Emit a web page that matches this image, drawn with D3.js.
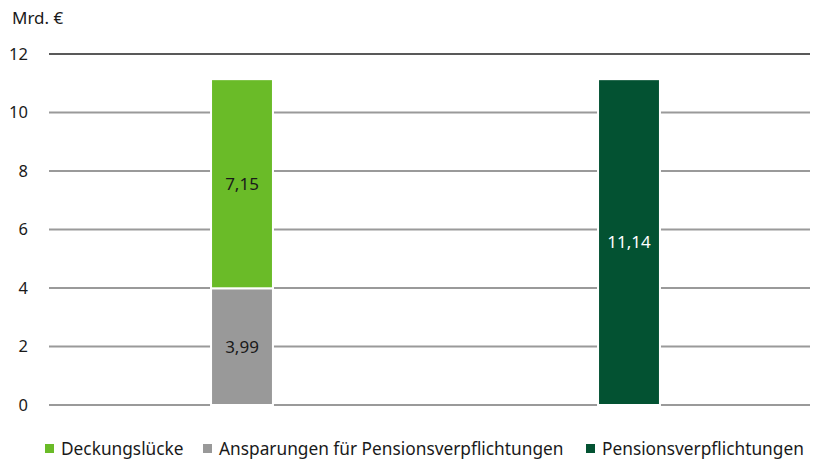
<!DOCTYPE html>
<html lang="de">
<head>
    <meta charset="UTF-8">
    <title>Pensionsverpflichtungen</title>
    <style>
        body { margin: 0; background: #fff; }
        svg text { font-family: "Noto Sans", "Open Sans", sans-serif; fill: #1a1a1a; }
        .grid line { stroke: #9a9a9a; stroke-width: 2; }
    </style>
</head>
<body>
    <script src="https://d3js.org/d3.v7.min.js"></script>
    <script>
        // Data
        const categories = ['Ausfinanzierung', 'Verpflichtungen'];
        const savings = [3.99, 0];
        const gap = [7.15, 0];
        const obligations = [0, 11.14];
        const yTicks = [0, 2, 4, 6, 8, 10, 12];
        const seriesNames = ['Deckungslücke', 'Ansparungen für Pensionsverpflichtungen', 'Pensionsverpflichtungen'];
        const colors = ['#6abb28', '#999999', '#035232'];

        const width = 814;
        const height = 463;
        const margin = { top: 54, right: 4, bottom: 58, left: 49 };

        const svg = d3.select('body').append('svg')
            .attr('width', width)
            .attr('height', height);

        const x = d3.scaleBand()
            .domain(categories)
            .range([48.5, 822.5]);
        const barW = x.bandwidth() * 0.16;
        const cx = (c) => x(c) + x.bandwidth() / 2;

        const y = d3.scaleLinear()
            .domain([0, 12])
            .range([height - margin.bottom, margin.top]);

        // Gridlines
        const grid = svg.append('g').attr('class', 'grid');
        grid.selectAll('line')
            .data(yTicks)
            .enter()
            .append('line')
            .attr('x1', margin.left)
            .attr('x2', width - margin.right)
            .attr('y1', (d) => y(d))
            .attr('y2', (d) => y(d))
            .style('stroke', (d) => d === 12 ? '#222' : null)
            .style('stroke-width', (d) => d === 12 ? 1.5 : null);

        // Tick labels
        svg.append('g').selectAll('text')
            .data(yTicks)
            .enter()
            .append('text')
            .attr('x', 28)
            .attr('y', (d) => y(d))
            .attr('dy', '0.35em')
            .attr('text-anchor', 'end')
            .style('font-size', '16.5px')
            .text((d) => d);

        svg.append('text')
            .attr('x', 12)
            .attr('y', 24)
            .style('font-size', '17px')
            .text('Mrd. €');

        // Stacked segments
        const segments = [];
        categories.forEach((c, i) => {
            segments.push({ c, y0: 0, y1: savings[i], color: colors[1], label: savings[i], text: '#1a1a1a' });
            segments.push({ c, y0: savings[i], y1: savings[i] + gap[i], color: colors[0], label: gap[i], text: '#1a1a1a' });
            segments.push({ c, y0: 0, y1: obligations[i], color: colors[2], label: obligations[i], text: '#fff' });
        });
        const visible = segments.filter((s) => s.label > 0);

        svg.append('g').selectAll('rect')
            .data(visible)
            .enter()
            .append('rect')
            .attr('x', (d) => cx(d.c) - barW / 2)
            .attr('width', barW)
            .attr('y', (d) => y(d.y1))
            .attr('height', (d) => y(d.y0) - y(d.y1))
            .attr('fill', (d) => d.color)
            .attr('stroke', '#fff')
            .attr('stroke-width', 2);

        svg.append('g').selectAll('text')
            .data(visible)
            .enter()
            .append('text')
            .attr('x', (d) => cx(d.c))
            .attr('y', (d) => y((d.y0 + d.y1) / 2))
            .attr('dy', '0.35em')
            .attr('text-anchor', 'middle')
            .style('font-size', '17px')
            .style('fill', (d) => d.text)
            .text((d) => d3.format('.2f')(d.label).replace('.', ','));

        // Legend
        const legendX = [45, 203, 586];
        const legend = svg.append('g').selectAll('g')
            .data(seriesNames)
            .enter()
            .append('g')
            .attr('transform', (d, i) => `translate(${legendX[i]}, 444)`);
        legend.append('rect')
            .attr('width', 9)
            .attr('height', 9)
            .attr('fill', (d, i) => colors[i]);
        legend.append('text')
            .attr('x', 16)
            .attr('y', 5)
            .attr('dy', '0.35em')
            .style('font-size', '17.3px')
            .text((d) => d);
    </script>
</body>
</html>
